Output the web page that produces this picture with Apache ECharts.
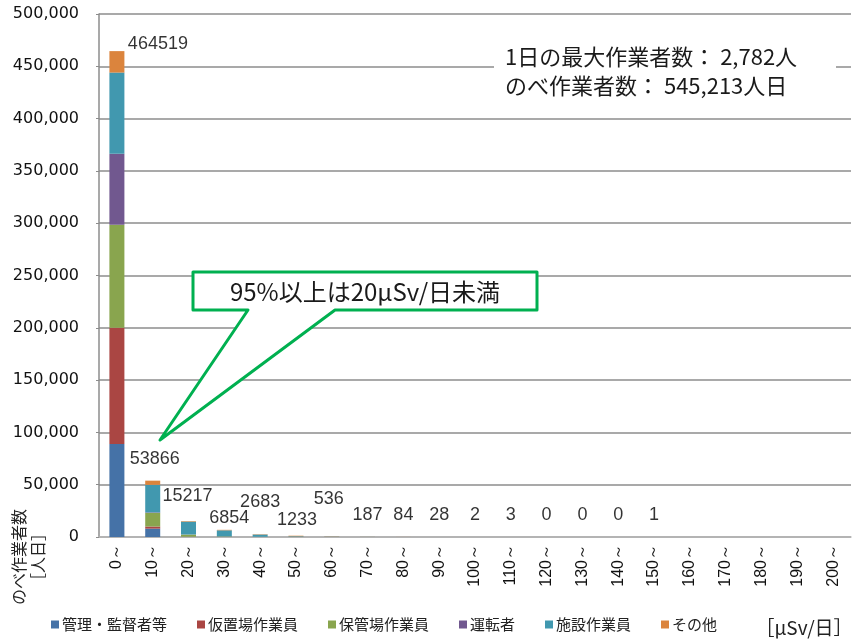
<!DOCTYPE html>
<html>
<head>
<meta charset="utf-8">
<script src="https://cdn.jsdelivr.net/npm/echarts@6/dist/echarts.min.js"></script>
<style>
html,body{margin:0;padding:0;background:#fff;}
#c{width:853px;height:642px;}
</style>
</head>
<body>
<div id="c"></div>
<script>
// ---- data ----
const categories = ['0～','10～','20～','30～','40～','50～','60～','70～','80～','90～','100～','110～','120～','130～','140～','150～','160～','170～','180～','190～','200～'];
const seriesNames = ['管理・監督者等','仮置場作業員','保管場作業員','運転者','施設作業員','その他'];
const kanri   = [89000, 8000, 200, 100, 50, 20, 20, 10, 5, 2, 0, 0, 0, 0, 0, 0, 0, 0, 0, 0, 0];
const karioki = [111000, 2000, 100, 50, 20, 10, 10, 5, 2, 1, 0, 0, 0, 0, 0, 0, 0, 0, 0, 0, 0];
const hokan   = [98500, 13000, 2000, 400, 150, 50, 30, 10, 5, 2, 0, 0, 0, 0, 0, 0, 0, 0, 0, 0, 0];
const unten   = [68000, 500, 100, 50, 20, 10, 10, 2, 2, 1, 0, 0, 0, 0, 0, 0, 0, 0, 0, 0, 0];
const shisetsu= [77500, 26366, 12300, 5800, 2100, 600, 250, 80, 30, 10, 1, 1, 0, 0, 0, 0, 0, 0, 0, 0, 0];
const sonota  = [20519, 4000, 517, 454, 343, 543, 216, 80, 40, 12, 1, 2, 0, 0, 0, 1, 0, 0, 0, 0, 0];
const totals  = [464519, 53866, 15217, 6854, 2683, 1233, 536, 187, 84, 28, 2, 3, 0, 0, 0, 1, null, null, null, null, null];
const yTicks  = [0, 50000, 100000, 150000, 200000, 250000, 300000, 350000, 400000, 450000, 500000];

// ---- chart ----
const colors = ['#4572A7','#AA4643','#89A54E','#71588F','#4198AF','#DB843D'];
const seriesData = [kanri, karioki, hokan, unten, shisetsu, sonota];
const labelOffsets = [[41,7],[2,-7],[-1,-11],[5,3],[0,-18],[1,-1],[-3,-23]];

const chart = echarts.init(document.getElementById('c'));
const fontJP = '"Noto Sans CJK JP", sans-serif';

const barSeries = seriesNames.map((n, i) => ({
  name: n,
  type: 'bar',
  stack: 'total',
  barWidth: 15,
  itemStyle: {color: colors[i]},
  data: seriesData[i],
  animation: false
}));

const labelSeries = {
  name: 'total',
  type: 'scatter',
  symbol: 'circle',
  symbolSize: 1,
  itemStyle: {color: 'rgba(0,0,0,0)'},
  silent: true,
  animation: false,
  z: 10,
  data: totals.map((v, i) => ({
    value: v == null ? '-' : v,
    label: {offset: labelOffsets[i] || [0, -7]}
  })),
  label: {
    show: true,
    position: 'top',
    distance: 5,
    fontFamily: '"Liberation Sans", Arial, sans-serif',
    fontSize: 18,
    color: '#000',
    formatter: p => (p.value == null || p.value === '-' ? '' : String(p.value))
  }
};

chart.setOption({
  backgroundColor: '#fff',
  animation: false,
  grid: {left: 99, right: 2, top: 14, bottom: 105, containLabel: false},
  legend: {
    data: seriesNames,
    left: 46,
    top: 612,
    icon: 'rect',
    itemWidth: 8,
    itemHeight: 8,
    itemGap: 30,
    textStyle: {fontFamily: fontJP, fontSize: 15, color: '#222', padding: [0,0,0,-2]}
  },
  xAxis: {
    type: 'category',
    data: categories,
    axisLine: {lineStyle: {color: '#b8b8b8', width: 1.5}},
    axisTick: {show: false},
    axisLabel: {
      rotate: 90,
      interval: 0,
      margin: 7,
      fontFamily: '"Liberation Sans", Arial, sans-serif',
      fontSize: 16,
      color: '#111'
    }
  },
  yAxis: {
    type: 'value',
    min: yTicks[0],
    max: yTicks[yTicks.length - 1],
    interval: yTicks[1] - yTicks[0],
    axisLine: {show: true, lineStyle: {color: '#8c8c8c', width: 1.5}},
    axisTick: {show: true, length: 3, lineStyle: {color: '#8c8c8c'}},
    splitLine: {lineStyle: {color: '#8c8c8c', width: 1.5}},
    axisLabel: {
      margin: 20,
      fontFamily: '"DejaVu Sans", sans-serif',
      fontSize: 16,
      color: '#111',
      formatter: v => v.toLocaleString('en-US')
    }
  },
  series: [...barSeries, labelSeries],
  graphic: [
    {type: 'rect', shape: {x: 494, y: 40, width: 342, height: 60}, style: {fill: '#fff'}, z: 50},
    {type: 'text', x: 505, y: 57, z: 51, style: {text: '1日の最大作業者数： 2,782人', font: '22px "Noto Sans CJK JP"', fill: '#1a1a1a', textVerticalAlign: 'middle'}},
    {type: 'text', x: 505, y: 86, z: 51, style: {text: 'のべ作業者数： 545,213人日', font: '22px "Noto Sans CJK JP"', fill: '#1a1a1a', textVerticalAlign: 'middle'}},
    {type: 'polygon', z: 52, shape: {points: [[193,272],[537,272],[537,310],[335,310],[160,440],[248,310],[193,310]]},
      style: {fill: '#fff', stroke: '#00B050', lineWidth: 3, lineJoin: 'round'}},
    {type: 'text', x: 365, y: 292, z: 53, style: {text: '95%以上は20μSv/日未満', font: '24px "Noto Sans CJK JP"', fill: '#1a1a1a', textAlign: 'center', textVerticalAlign: 'middle'}},
    {type: 'text', x: 28, y: 557, rotation: Math.PI / 2, z: 53, style: {text: 'のべ作業者数\n［人日］', font: '16px "Noto Sans CJK JP"', fill: '#222', textAlign: 'center', textVerticalAlign: 'middle', lineHeight: 19}},
    {type: 'text', x: 804, y: 628, z: 53, style: {text: '［μSv/日］', font: '19px "Noto Sans CJK JP"', fill: '#222', textAlign: 'center', textVerticalAlign: 'middle'}}
  ]
});
</script>
</body>
</html>
